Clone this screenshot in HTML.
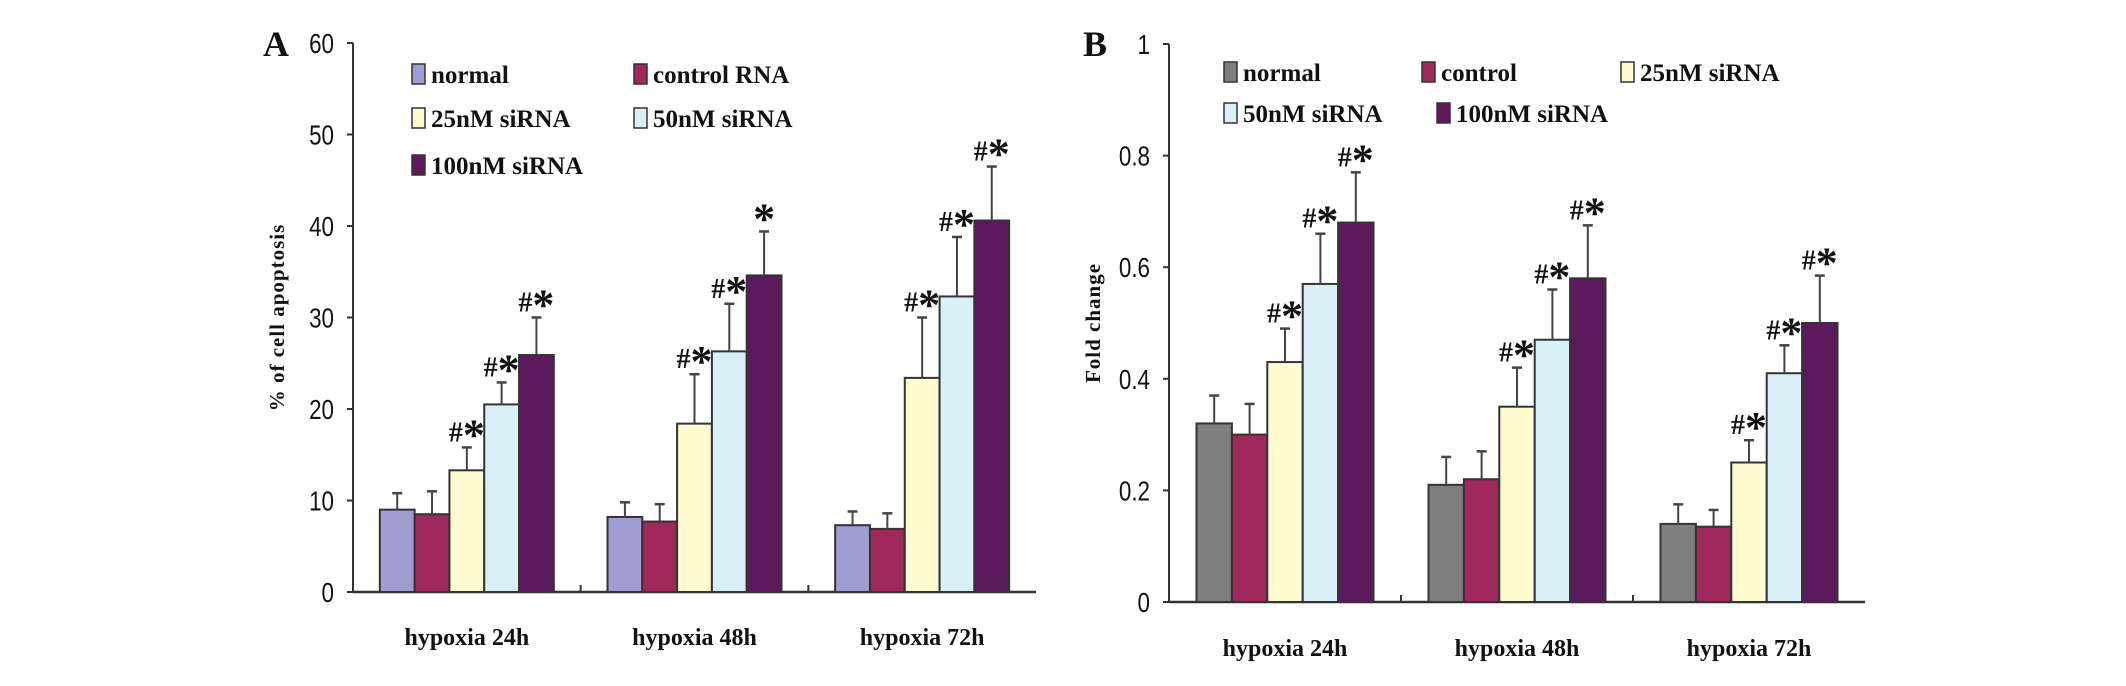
<!DOCTYPE html>
<html><head><meta charset="utf-8">
<style>
html,body{margin:0;padding:0;background:#fff;}
svg{display:block;}
text{font-family:"Liberation Serif",serif;font-weight:bold;fill:#111;}
.tick{font-family:"Liberation Sans",sans-serif;font-weight:normal;font-size:28px;}
</style></head>
<body>
<svg id="chart" width="2126" height="686" viewBox="0 0 2126 686" xmlns="http://www.w3.org/2000/svg"></svg>
<script>
const categories = ["hypoxia 24h","hypoxia 48h","hypoxia 72h"];
const seriesA = ["normal","control RNA","25nM siRNA","50nM siRNA","100nM siRNA"];
const seriesB = ["normal","control","25nM siRNA","50nM siRNA","100nM siRNA"];
const aNormal=[9.0,8.2,7.3], aControl=[8.5,7.7,6.9], a25=[13.3,18.4,23.4], a50=[20.5,26.3,32.3], a100=[25.9,34.6,40.6];
const aErrNormal=[1.8,1.6,1.5], aErrControl=[2.5,1.9,1.7], aErr25=[2.5,5.4,6.6], aErr50=[2.4,5.2,6.5], aErr100=[4.1,4.8,5.9];
const aMarks=[["#*","#*","#*"],["#*","#*","#*"],["#*","*","#*"]];
const bNormal=[0.32,0.21,0.14], bControl=[0.30,0.22,0.135], b25=[0.43,0.35,0.25], b50=[0.57,0.47,0.41], b100=[0.68,0.58,0.50];
const bErrNormal=[0.05,0.05,0.035], bErrControl=[0.055,0.05,0.03], bErr25=[0.06,0.07,0.04], bErr50=[0.09,0.09,0.05], bErr100=[0.09,0.095,0.085];
const bMarks=[["#*","#*","#*"],["#*","#*","#*"],["#*","#*","#*"]];
const ticksA=[0,10,20,30,40,50,60];
const ticksB=[0,0.2,0.4,0.6,0.8,1];
const ticksBLabels=["0","0.2","0.4","0.6","0.8","1"];

const NS="http://www.w3.org/2000/svg";
const svg=document.getElementById('chart');
function mk(tag,attrs,parent,txt){const e=document.createElementNS(NS,tag);for(const k in attrs)e.setAttribute(k,attrs[k]);if(txt!==undefined)e.textContent=txt;(parent||svg).appendChild(e);return e;}

function panel(cfg){
  const g=mk('g',{});
  
  
  const {x0,x1,y0,yTop,max}=cfg;
  const yS=v=>y0-(v/max)*(y0-yTop);
  const catW=(x1-x0)/3;
  const ya=mk('line',{x1:x0,y1:y0,x2:x0,y2:yTop,stroke:'#333','stroke-width':2},g);
  
  const xa=mk('line',{x1:x0,y1:y0,x2:x1,y2:y0,stroke:'#333','stroke-width':2.5},g);
  
  cfg.ticks.forEach((t,i)=>{
    const y=yS(t);
    mk('line',{x1:x0-6,y1:y,x2:x0,y2:y,stroke:'#333','stroke-width':2},g);
    const tl=mk('text',{x:cfg.tickX,y:y+10,'text-anchor':'end',class:'tick',transform:`translate(${cfg.tickX},0) scale(0.8,1) translate(${-cfg.tickX},0)`},g,cfg.tickLabels[i]);
    
  });
  for(let c=1;c<3;c++){mk('line',{x1:x0+c*catW,y1:y0,x2:x0+c*catW,y2:y0-7,stroke:'#333','stroke-width':2},g);}
  const bw=cfg.barW;
  categories.forEach((cat,ci)=>{
    const cx=x0+catW*(ci+0.5);
    const left=cx-bw*2.5;
    cfg.values.forEach((arr,si)=>{
      const v=arr[ci], e=cfg.errs[si][ci];
      const bx=left+si*bw, by=yS(v);
      const r=mk('rect',{x:bx,y:by,width:bw,height:y0-by,fill:cfg.colors[si],stroke:'#333','stroke-width':2},g);
      
      
      const ey=yS(v+e), mx=bx+bw/2;
      mk('line',{x1:mx,y1:by,x2:mx,y2:ey,stroke:'#444','stroke-width':2},g);
      mk('line',{x1:mx-5,y1:ey,x2:mx+5,y2:ey,stroke:'#444','stroke-width':2.5},g);
      const m=cfg.marks[si-2]?cfg.marks[si-2][ci]:null;
      if(m){
        const t=mk('text',{x:mx,y:ey+4,'text-anchor':'middle','font-size':30},g);
        
        if(m.indexOf('#')>=0) mk('tspan',{'font-size':28,dy:-10},t,'#');
        mk('tspan',{'font-size':44,dy:m.indexOf('#')>=0?8:-2},t,'*');
      }
    });
    const cl=mk('text',{x:cx,y:cfg.catY,'text-anchor':'middle','font-size':24},g,cat);
    
  });
  const yt=mk('text',{x:cfg.titleX,y:(y0+yTop)/2,'text-anchor':'middle','font-size':21,transform:`rotate(-90 ${cfg.titleX} ${(y0+yTop)/2})`,'font-family':'"Liberation Sans",sans-serif','letter-spacing':'1'},g,cfg.title);
  
  const pl=mk('text',{x:cfg.letterX,y:56,'font-size':36},g,cfg.letter);
  
  cfg.legend.forEach((L,i)=>{
    const lg=mk('g',{},g);
    
    mk('rect',{x:L[0],y:L[1]-10,width:13,height:20,fill:cfg.colors[i],stroke:'#333','stroke-width':1.5},lg);
    mk('text',{x:L[0]+19,y:L[1]+9,'font-size':25},lg,cfg.series[i]);
  });
}

panel({name:'panel-a-apoptosis',letter:'A',letterX:263,x0:353,x1:1036,y0:592,yTop:43,max:60,
  ticks:ticksA,tickLabels:ticksA.map(String),tickX:334,barW:34.8,catY:645,titleX:284,title:'% of cell apoptosis',
  values:[aNormal,aControl,a25,a50,a100],errs:[aErrNormal,aErrControl,aErr25,aErr50,aErr100],marks:aMarks,
  series:seriesA,colors:['#9e9ed2','#a0285c','#fffad0','#d8f0f6','#5c1a5c'],
  legend:[[412,74],[634,74],[412,118],[634,118],[412,165]]});
panel({name:'panel-b-fold-change',letter:'B',letterX:1083,x0:1169,x1:1865,y0:602,yTop:44,max:1,
  ticks:ticksB,tickLabels:ticksBLabels,tickX:1150,barW:35.4,catY:656,titleX:1100,title:'Fold change',
  values:[bNormal,bControl,b25,b50,b100],errs:[bErrNormal,bErrControl,bErr25,bErr50,bErr100],marks:bMarks,
  series:seriesB,colors:['#7f7f7f','#a0285c','#fffad0','#d8f0f6','#5c1a5c'],
  legend:[[1224,72],[1422,72],[1621,72],[1224,113],[1437,113]]});
</script>
</body></html>
